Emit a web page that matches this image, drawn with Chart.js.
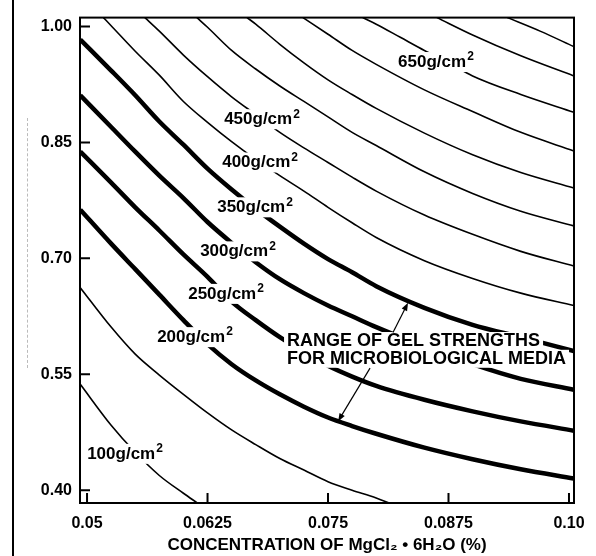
<!doctype html>
<html>

<head>
  <title>Gel strength</title>
  <script src="https://cdn.jsdelivr.net/npm/chart.js@4.4.1/dist/chart.umd.min.js"></script>
  <style>
    body {
      margin: 0;
      background: #fff;
    }
    #wrap {
      position: relative;
      width: 596px;
      height: 556px;
    }
    #edge {
      position: absolute;
      left: 12px;
      top: 0;
      width: 2px;
      height: 556px;
      background: #000;
    }
    #scan {
      position: absolute;
      left: 27px;
      top: 118px;
      height: 250px;
      border-left: 1px dashed #bbb;
    }
  </style>
</head>

<body>
<div id="wrap">
  <canvas id="canvas" width="596" height="556"></canvas>
  <div id="edge"></div>
  <div id="scan"></div>
</div>
<script>
  var FONT = '"Liberation Sans", Arial, Helvetica, sans-serif';

  var X_TICKS = [0.05, 0.0625, 0.075, 0.0875, 0.10];
  var X_TICK_LABELS = ['0.05', '0.0625', '0.075', '0.0875', '0.10'];
  var Y_TICKS = [0.40, 0.55, 0.70, 0.85, 1.00];
  var X_TITLE = 'CONCENTRATION OF MgCl\u2082 \u2022 6H\u2082O (%)';

  // gel strength contours, g/cm2 : MgCl2 concentration (x) vs agar (y)
  var concGrid = [0.0493, 0.0525, 0.055, 0.0575, 0.06, 0.0625, 0.065, 0.0675, 0.07, 0.0725, 0.075, 0.0775, 0.08, 0.085, 0.09, 0.095, 0.1005];

  var conc100 = [0.0493, 0.0525, 0.055, 0.0575, 0.06, 0.0615];
  var agar100 = [0.537, 0.484, 0.449, 0.419, 0.396, 0.383];

  var conc150 = [0.0493, 0.0525, 0.055, 0.0575, 0.06, 0.0625, 0.065, 0.0675, 0.07, 0.0725, 0.075, 0.0775, 0.08, 0.0814];
  var agar150 = [0.662, 0.611, 0.576, 0.549, 0.524, 0.500, 0.478, 0.459, 0.441, 0.426, 0.411, 0.400, 0.390, 0.383];

  var agar200 = [0.763, 0.719, 0.686, 0.653, 0.620, 0.589, 0.563, 0.542, 0.524, 0.508, 0.494, 0.483, 0.473, 0.455, 0.440, 0.427, 0.415];
  var agar250 = [0.838, 0.798, 0.766, 0.736, 0.705, 0.676, 0.644, 0.620, 0.598, 0.579, 0.561, 0.547, 0.535, 0.517, 0.502, 0.489, 0.477];
  var agar300 = [0.911, 0.870, 0.838, 0.807, 0.778, 0.747, 0.720, 0.695, 0.673, 0.655, 0.639, 0.625, 0.611, 0.586, 0.563, 0.544, 0.530];
  var agar350 = [0.983, 0.943, 0.911, 0.877, 0.847, 0.816, 0.789, 0.764, 0.741, 0.719, 0.699, 0.682, 0.664, 0.636, 0.614, 0.598, 0.580];

  var conc400 = [0.0517, 0.0525, 0.055, 0.0575, 0.06, 0.0625, 0.065, 0.0675, 0.07, 0.0725, 0.075, 0.0775, 0.08, 0.085, 0.09, 0.095, 0.1005];
  var agar400 = [1.0115, 1.001, 0.968, 0.937, 0.903, 0.876, 0.851, 0.828, 0.807, 0.787, 0.766, 0.746, 0.727, 0.697, 0.674, 0.655, 0.639];

  var conc450 = [0.0560, 0.0575, 0.06, 0.0625, 0.065, 0.0675, 0.07, 0.0725, 0.075, 0.0775, 0.08, 0.085, 0.09, 0.095, 0.1005];
  var agar450 = [1.0115, 0.994, 0.963, 0.935, 0.909, 0.886, 0.863, 0.843, 0.824, 0.805, 0.787, 0.756, 0.731, 0.709, 0.690];

  var conc500 = [0.0614, 0.0625, 0.065, 0.0675, 0.07, 0.0725, 0.075, 0.0775, 0.08, 0.085, 0.09, 0.095, 0.1005];
  var agar500 = [1.0115, 0.999, 0.969, 0.945, 0.923, 0.903, 0.883, 0.863, 0.846, 0.812, 0.784, 0.761, 0.742];

  var conc550 = [0.0666, 0.0675, 0.07, 0.0725, 0.075, 0.0775, 0.08, 0.085, 0.09, 0.095, 0.1005];
  var agar550 = [1.0115, 1.003, 0.977, 0.953, 0.931, 0.912, 0.894, 0.862, 0.834, 0.811, 0.791];

  var conc600 = [0.0724, 0.075, 0.0775, 0.08, 0.085, 0.09, 0.095, 0.1005];
  var agar600 = [1.0115, 0.990, 0.969, 0.951, 0.918, 0.890, 0.863, 0.839];

  var conc650 = [0.0786, 0.08, 0.0825, 0.085, 0.0875, 0.09, 0.095, 0.1005];
  var agar650 = [1.0115, 1.003, 0.986, 0.969, 0.953, 0.936, 0.912, 0.889];

  var conc700 = [0.0863, 0.09, 0.095, 0.1005];
  var agar700 = [1.0115, 0.989, 0.962, 0.936];

  var conc750 = [0.0936, 0.097, 0.1005];
  var agar750 = [1.0115, 0.994, 0.974];

  var curves = [
    { g: 100, conc: conc100, agar: agar100 },
    { g: 150, conc: conc150, agar: agar150 },
    { g: 200, conc: concGrid, agar: agar200 },
    { g: 250, conc: concGrid, agar: agar250 },
    { g: 300, conc: concGrid, agar: agar300 },
    { g: 350, conc: concGrid, agar: agar350 },
    { g: 400, conc: conc400, agar: agar400 },
    { g: 450, conc: conc450, agar: agar450 },
    { g: 500, conc: conc500, agar: agar500 },
    { g: 550, conc: conc550, agar: agar550 },
    { g: 600, conc: conc600, agar: agar600 },
    { g: 650, conc: conc650, agar: agar650 },
    { g: 700, conc: conc700, agar: agar700 },
    { g: 750, conc: conc750, agar: agar750 }
  ];
  // strengths used for microbiological media are drawn heavy
  var MEDIA_RANGE = [200, 350];

  // where the contour labels sit (data units)
  var curveLabels = [
    { g: 100, x: 0.05394, y: 0.447 },
    { g: 200, x: 0.06120, y: 0.598 },
    { g: 250, x: 0.06442, y: 0.654 },
    { g: 300, x: 0.06566, y: 0.709 },
    { g: 350, x: 0.06743, y: 0.766 },
    { g: 400, x: 0.06795, y: 0.824 },
    { g: 450, x: 0.06815, y: 0.880 },
    { g: 650, x: 0.08620, y: 0.954 }
  ];
  var rangeNote = {
    lines: ['RANGE OF GEL STRENGTHS', 'FOR MICROBIOLOGICAL MEDIA'],
    x: 0.07075, y: [0.593, 0.570],
    arrows: [
      { from: [0.08174, 0.604], to: [0.08330, 0.6425] },
      { from: [0.07936, 0.558], to: [0.07604, 0.489] }
    ]
  };

  function arrow(ctx, x0, y0, x1, y1) {
    var ang = Math.atan2(y1 - y0, x1 - x0), len = 8, half = 3;
    ctx.beginPath();
    ctx.moveTo(x0, y0);
    ctx.lineTo(x1 - Math.cos(ang) * len * 0.8, y1 - Math.sin(ang) * len * 0.8);
    ctx.stroke();
    ctx.beginPath();
    ctx.moveTo(x1, y1);
    ctx.lineTo(x1 - Math.cos(ang) * len - Math.sin(ang) * half, y1 - Math.sin(ang) * len + Math.cos(ang) * half);
    ctx.lineTo(x1 - Math.cos(ang) * len + Math.sin(ang) * half, y1 - Math.sin(ang) * len - Math.cos(ang) * half);
    ctx.closePath();
    ctx.fill();
  }

  var annotate = {
    id: 'annotate',
    afterDatasetsDraw: function (chart) {
      var ctx = chart.ctx, sx = chart.scales.x, sy = chart.scales.y;
      ctx.save();
      ctx.textBaseline = 'middle';

      curveLabels.forEach(function (lb) {
        var cx = sx.getPixelForValue(lb.x), cy = sy.getPixelForValue(lb.y);
        var main = lb.g + 'g/cm';
        ctx.font = 'bold 17px ' + FONT;
        var w1 = ctx.measureText(main).width;
        ctx.font = 'bold 12px ' + FONT;
        var w2 = ctx.measureText('2').width;
        var w = w1 + w2 + 1;
        var left = cx - w / 2;
        ctx.fillStyle = '#fff';
        ctx.fillRect(left - 3, cy - 10, w + 6, 20);
        ctx.fillStyle = '#000';
        ctx.textAlign = 'left';
        ctx.font = 'bold 17px ' + FONT;
        ctx.fillText(main, left, cy);
        ctx.font = 'bold 12px ' + FONT;
        ctx.fillText('2', left + w1 + 1, cy - 5);
      });

      ctx.font = 'bold 18px ' + FONT;
      ctx.textAlign = 'left';
      var tx = sx.getPixelForValue(rangeNote.x);
      rangeNote.lines.forEach(function (t, i) {
        var ty = sy.getPixelForValue(rangeNote.y[i]);
        var w = ctx.measureText(t).width;
        ctx.fillStyle = '#fff';
        ctx.fillRect(tx - 3, ty - 9, w + 6, 18);
      });
      ctx.fillStyle = '#000';
      rangeNote.lines.forEach(function (t, i) {
        ctx.fillText(t, tx, sy.getPixelForValue(rangeNote.y[i]));
      });

      ctx.strokeStyle = '#000';
      ctx.lineWidth = 1.2;
      rangeNote.arrows.forEach(function (a) {
        arrow(ctx, sx.getPixelForValue(a.from[0]), sy.getPixelForValue(a.from[1]),
          sx.getPixelForValue(a.to[0]), sy.getPixelForValue(a.to[1]));
      });
      ctx.restore();
    },
    afterDraw: function (chart) {
      var ctx = chart.ctx, a = chart.chartArea, sx = chart.scales.x, sy = chart.scales.y;
      ctx.save();
      ctx.strokeStyle = '#000';
      ctx.lineWidth = 2;
      ctx.strokeRect(a.left, a.top, a.right - a.left, a.bottom - a.top);
      ctx.beginPath();
      Y_TICKS.forEach(function (v) {
        var y = sy.getPixelForValue(v);
        ctx.moveTo(a.left, y);
        ctx.lineTo(a.left + 10, y);
      });
      X_TICKS.forEach(function (v) {
        var x = sx.getPixelForValue(v);
        ctx.moveTo(x, a.bottom);
        ctx.lineTo(x, a.bottom - 10);
      });
      ctx.stroke();
      ctx.restore();
    }
  };

  window.onload = function () {
    var datasets = curves.map(function (c) {
      var heavy = c.g >= MEDIA_RANGE[0] && c.g <= MEDIA_RANGE[1];
      return {
        label: c.g + ' g/cm2',
        data: c.conc.map(function (x, i) { return { x: x, y: c.agar[i] }; }),
        showLine: true,
        borderColor: '#000',
        borderWidth: heavy ? 4.5 : 1.6,
        pointRadius: 0,
        cubicInterpolationMode: 'monotone',
        fill: false
      };
    });

    var ctx = document.getElementById('canvas').getContext('2d');
    window.myChart = new Chart(ctx, {
      type: 'scatter',
      data: { datasets: datasets },
      options: {
        responsive: false,
        animation: false,
        layout: { padding: { top: 11, right: 22, left: 0, bottom: 0 } },
        plugins: {
          legend: { display: false },
          tooltip: { enabled: false }
        },
        scales: {
          x: {
            type: 'linear',
            min: 0.04927,
            max: 0.10052,
            grid: { display: false, drawTicks: false },
            border: { display: false },
            afterBuildTicks: function (s) {
              s.ticks = X_TICKS.map(function (v) { return { value: v }; });
            },
            afterFit: function (s) { s.height = 53; },
            ticks: {
              autoSkip: false,
              maxRotation: 0,
              padding: 11,
              color: '#000',
              font: { family: FONT, size: 16, weight: 'bold' },
              callback: function (v, i) { return X_TICK_LABELS[i]; }
            },
            title: {
              display: true,
              text: X_TITLE,
              color: '#000',
              font: { family: FONT, size: 17, weight: 'bold' },
              padding: { top: 0, bottom: 0 }
            }
          },
          y: {
            type: 'linear',
            min: 0.3834,
            max: 1.0115,
            grid: { display: false, drawTicks: false },
            border: { display: false },
            afterBuildTicks: function (s) {
              s.ticks = Y_TICKS.map(function (v) { return { value: v }; });
            },
            afterFit: function (s) { s.width = 80; },
            ticks: {
              autoSkip: false,
              padding: 8,
              color: '#000',
              font: { family: FONT, size: 16, weight: 'bold' },
              callback: function (v) { return v.toFixed(2); }
            }
          }
        }
      },
      plugins: [annotate]
    });
  };
</script>
</body>

</html>
